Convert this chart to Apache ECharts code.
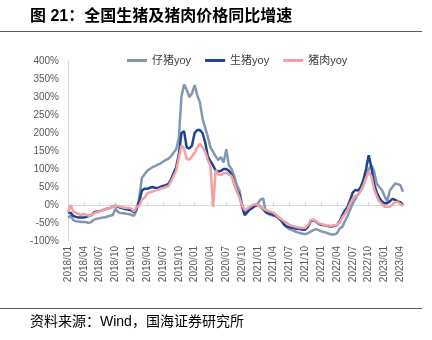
<!DOCTYPE html>
<html><head><meta charset="utf-8">
<script src="https://cdn.jsdelivr.net/npm/echarts@6/dist/echarts.min.js"></script>
<style>html,body{margin:0;padding:0;background:#fff}#c{width:432px;height:340px}</style>
</head><body><div id="c"></div>
<script>
// half-monthly observations, 2018/01 .. 2023/04
var startYear = 2018, startMonth = 1, nMonths = 64;
var piglet = [-35,-30,-42,-45,-46,-47,-47,-48,-50,-46,-40,-38,-37,-35,-34,-32,-30,-28,-10,-20,-22,-23,-24,-25,-27,-30,-15,20,75,85,95,100,105,108,112,115,120,125,128,135,145,155,185,300,335,320,300,310,333,305,285,240,215,190,160,148,135,125,133,118,155,110,100,80,55,40,0,-18,-15,-10,-5,0,5,15,18,-20,-25,-28,-30,-32,-35,-42,-55,-62,-67,-70,-73,-76,-78,-80,-81,-78,-74,-70,-67,-70,-73,-75,-77,-80,-82,-82,-78,-65,-60,-45,-30,-12,5,18,30,40,55,80,100,110,95,60,50,42,25,10,40,50,60,58,55,37];
var hog = [-20,-22,-30,-33,-35,-35,-35,-33,-30,-28,-20,-18,-17,-15,-12,-10,-8,-5,-2,-5,-8,-10,-12,-13,-15,-20,-10,10,40,45,45,48,50,48,47,50,53,55,58,70,88,105,140,200,205,160,157,165,200,208,208,200,175,135,122,110,95,93,95,100,100,95,85,60,40,30,-5,-28,-20,-12,-8,-2,0,-5,-12,-20,-23,-25,-28,-30,-38,-45,-55,-60,-62,-63,-65,-66,-67,-69,-68,-60,-45,-42,-46,-52,-55,-56,-58,-59,-60,-57,-56,-45,-28,-15,-5,15,35,42,40,50,70,100,138,105,60,35,20,10,5,5,10,17,14,10,8,0];
var pork = [-20,0,-18,-22,-25,-28,-25,-28,-30,-27,-22,-20,-18,-15,-12,-10,-8,-5,-3,-3,-5,-7,-8,-8,-10,-18,-5,-3,15,20,32,35,37,40,42,45,47,50,52,65,80,95,130,165,157,128,126,135,145,160,170,160,148,125,108,-5,97,85,83,88,90,85,80,60,38,20,-3,-14,-10,-5,0,2,0,-5,-10,-14,-17,-19,-22,-28,-35,-40,-46,-50,-55,-58,-60,-62,-63,-64,-63,-55,-42,-40,-45,-50,-53,-55,-57,-57,-58,-56,-55,-48,-35,-25,-12,5,18,25,28,40,55,75,92,80,45,25,10,3,-5,-5,-5,2,8,8,3,-3];
var seriesNames = ['仔猪yoy','生猪yoy','猪肉yoy'];
var yTicks = {min:-100, max:400, step:50};

var categories = [];
for (var m = 0; m < nMonths; m++) {
  var y = startYear + Math.floor((startMonth - 1 + m) / 12);
  var mo = (startMonth - 1 + m) % 12 + 1;
  var s = y + '/' + (mo < 10 ? '0' + mo : mo);
  categories.push(s + '/01');
  categories.push(s + '/16');
}

var chart = echarts.init(document.getElementById('c'), null, {renderer:'canvas'});
var lblColor = '#595959';
chart.setOption({
  animation: false,
  textStyle: {fontFamily: 'Arial, "Liberation Sans", "Noto Sans CJK SC"'},
  legend: {
    top: 50, left: 122, itemGap: 14, itemWidth: 20, itemHeight: 3, icon: 'rect',
    textStyle: {fontSize: 11, color: '#404040', fontFamily: 'Arial, "Liberation Sans", "Noto Sans CJK SC"'},
    data: seriesNames
  },
  grid: {left: 68, top: 61, width: 335, height: 180, containLabel: false},
  xAxis: [{
    type: 'category', data: categories, boundaryGap: false, position: 'bottom',
    axisLine: {show: false, onZero: false}, axisTick: {show: false},
    axisLabel: {interval: 5, rotate: 90, fontSize: 10, color: lblColor, margin: 5,
      formatter: function (v) { return v.slice(0, 7); }},
    splitLine: {show: false}
  }, {
    type: 'category', data: categories, boundaryGap: false, position: 'bottom',
    axisLine: {show: true, onZero: true, lineStyle: {color: '#d9d9d9', width: 1}},
    axisTick: {show: true, interval: 5, inside: true, length: 3, lineStyle: {color: '#d9d9d9'}},
    axisLabel: {show: false}, splitLine: {show: false}
  }],
  yAxis: {
    type: 'value', min: yTicks.min, max: yTicks.max, interval: yTicks.step,
    axisLine: {show: true, lineStyle: {color: '#d9d9d9'}},
    axisTick: {show: false}, splitLine: {show: false},
    axisLabel: {fontSize: 10, color: lblColor, margin: 9, formatter: '{value}%'}
  },
  series: [
    {name: seriesNames[0], type: 'line', data: piglet, symbol: 'none', lineStyle: {width: 2.5, color: '#8497B0'}, itemStyle: {color: '#8497B0'}},
    {name: seriesNames[1], type: 'line', data: hog, symbol: 'none', lineStyle: {width: 2.5, color: '#1B4594'}, itemStyle: {color: '#1B4594'}},
    {name: seriesNames[2], type: 'line', data: pork, symbol: 'none', lineStyle: {width: 2.5, color: '#F4A0A0'}, itemStyle: {color: '#F4A0A0'}}
  ],
  graphic: [
    {type: 'text', left: 30, top: 9, style: {text: '图 21：全国生猪及猪肉价格同比增速', fontSize: 16, fontWeight: 'bold', fill: '#000', fontFamily: 'Arial, "Noto Sans CJK SC"'}},
    {type: 'line', shape: {x1: 0, y1: 31.5, x2: 422, y2: 31.5}, style: {stroke: '#595959', lineWidth: 1}},
    {type: 'line', shape: {x1: 0, y1: 308.5, x2: 422, y2: 308.5}, style: {stroke: '#595959', lineWidth: 1}},
    {type: 'text', left: 30, top: 315, style: {text: '资料来源：Wind，国海证券研究所', fontSize: 14, fill: '#000', fontFamily: 'Arial, "Noto Sans CJK SC"'}}
  ]
});
</script></body></html>
